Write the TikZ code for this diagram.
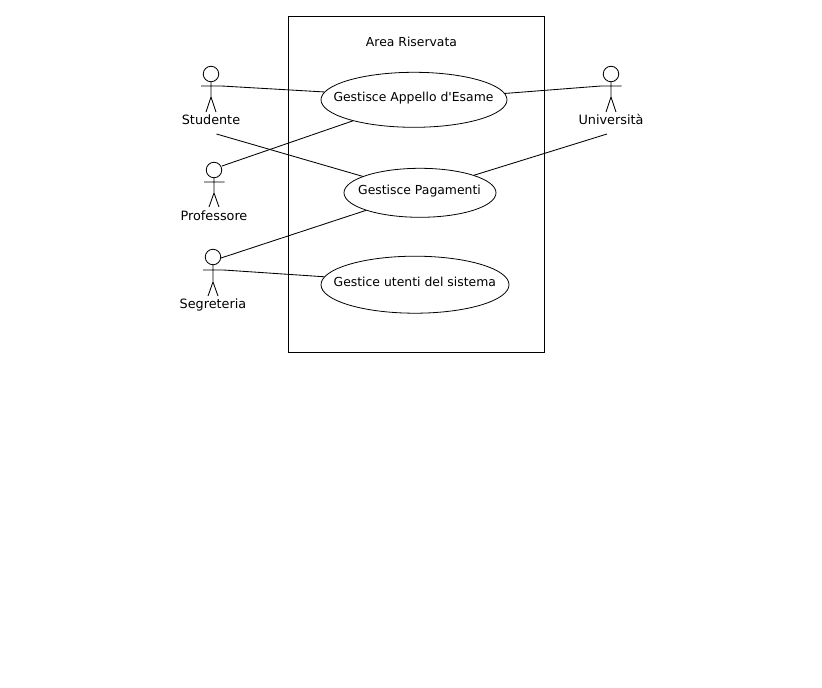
\documentclass[tikz,border=0pt]{standalone}
\usepackage{fontspec}
\setmainfont{DejaVu Sans}[Ligatures=TeXOff]
\usetikzlibrary{shapes.geometric}
\tikzset{
  lbl/.style={inner sep=0pt,anchor=base,font=\fontsize{12.4}{14}\selectfont,text=black},
  actorlbl/.style={lbl,font=\fontsize{12.8}{14}\selectfont},
  usecase/.style={draw,ellipse,line width=0.8pt,inner sep=0pt,minimum width=#1},
  conn/.style={line width=0.85pt},
  head/.style={draw,circle,line width=0.85pt,minimum size=15.5pt,inner sep=0pt},
  pics/actor/.style n args={4}{code={
    \node[head] (#1h) at (0,0) {};
    \coordinate (#1l) at (-10,#3);
    \coordinate (#1r) at (10.5,#3);
    \coordinate (#1f) at (0,#4);
    \coordinate (#1a) at (-5,#2);
    \coordinate (#1b) at (5,#2);
    \draw[conn] (#1h.south) -- (#1f) (#1a) -- (#1f) -- (#1b) (#1l) -- (#1r);
  }}
}
\begin{document}
\begin{tikzpicture}[x=1pt,y=-1pt]
\useasboundingbox (0,0) rectangle (822,688);
\fill[white] (0,0) rectangle (822,688);
\node[draw,line width=0.85pt,minimum width=256pt,minimum height=336pt,inner sep=0pt] (box) at (416.5,184.5) {};
\node[lbl] (title) at (411.5,46) {Area Riservata};
\node[usecase=186pt,minimum height=55pt] (uc1) at (414,99.8) {};
\node[usecase=152pt,minimum height=49pt] (uc2) at (420,192.8) {};
\node[usecase=188pt,minimum height=57pt] (uc3) at (415,284.7) {};
\node[lbl] (t1) at (413.5,101) {Gestisce Appello d'Esame};
\node[lbl] (t2) at (419.5,194) {Gestisce Pagamenti};
\node[lbl] (t3) at (414.8,286) {Gestice utenti del sistema};
\pic at (211,74) {actor={st}{38}{12}{23}};
\pic at (214,170) {actor={pr}{37}{12}{23}};
\pic at (213,257) {actor={se}{39}{13}{25}};
\pic at (611,74) {actor={un}{38}{12}{23}};
\node[actorlbl] (lst) at (211,124) {Studente};
\node[actorlbl] (lpr) at (214,220) {Professore};
\node[actorlbl] (lse) at (213,308) {Segreteria};
\node[actorlbl] (lun) at (611,124) {Università};
\coordinate (stlow) at (216.5,134);
\coordinate (unlow) at (607,134);
\coordinate (prn) at (222,166);
\coordinate (sen) at (221,258);
\draw[conn] (str) -- (uc1.175.6);
\draw[conn] (stlow) -- (uc2.164);
\draw[conn] (prn) -- (uc1.199.6);
\draw[conn] (sen) -- (uc2.198);
\draw[conn] (ser) -- (uc3.175);
\draw[conn] (uc1.4.4) -- (unl);
\draw[conn] (unlow) -- (uc2.18.4);
\end{tikzpicture}
\end{document}
